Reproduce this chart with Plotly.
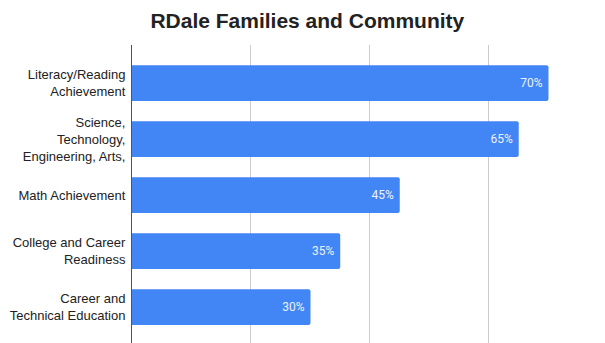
import plotly.graph_objects as go

categories = [
    "Literacy/Reading<br>Achievement",
    "Science,<br>Technology,<br>Engineering, Arts,",
    "Math Achievement",
    "College and Career<br>Readiness",
    "Career and<br>Technical Education",
]
values = [70, 65, 45, 35, 30]
labels = [f"{v}%\u00a0" for v in values]

fig = go.Figure(
    go.Bar(
        y=categories,
        x=values,
        orientation="h",
        text=labels,
        textposition="inside",
        insidetextanchor="end",
        textfont=dict(family="Roboto", size=12, color="#eef3fd"),
        marker=dict(color="#4285F4", cornerradius=2, line=dict(width=0)),
        cliponaxis=False,
    )
)

fig.update_layout(
    width=605,
    height=343,
    margin=dict(l=132, r=0, t=45, b=0),
    paper_bgcolor="white",
    plot_bgcolor="white",
    bargap=0.36,
    showlegend=False,
    title=dict(
        text="<b>RDale Families and Community</b>",
        x=0.508,
        xanchor="center",
        y=0.94,
        yanchor="middle",
        font=dict(family="Liberation Sans, Arial", size=21, color="#222222"),
    ),
    xaxis=dict(
        range=[0, 79.5],
        dtick=20,
        showgrid=True,
        gridcolor="#cccccc",
        gridwidth=1,
        showticklabels=False,
        zeroline=False,
        showline=False,
    ),
    yaxis=dict(
        range=[4.64, -0.68],
        showline=True,
        linecolor="#555555",
        linewidth=1,
        ticks="",
        ticklabelstandoff=3,
        tickfont=dict(family="Liberation Sans, Arial", size=13, color="#222222"),
    ),
)

fig.write_html("out.html")
